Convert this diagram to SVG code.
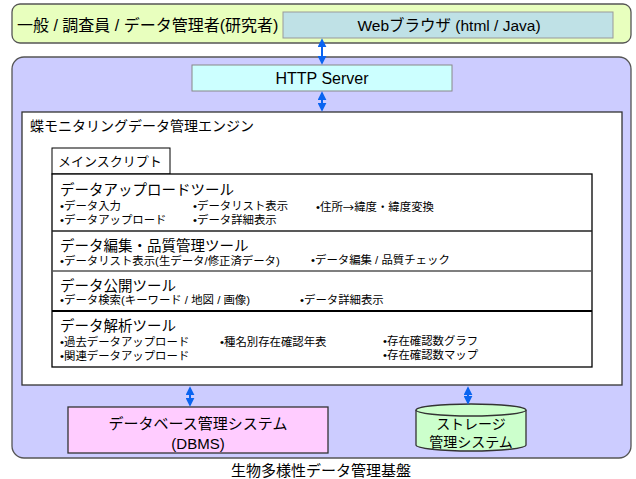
<svg xmlns="http://www.w3.org/2000/svg" width="636" height="479" viewBox="0 0 636 479">
<defs>
<marker id="ah" viewBox="0 0 10 10" refX="8" refY="5" markerWidth="4.5" markerHeight="4.5" orient="auto-start-reverse" markerUnits="strokeWidth">
<path d="M0,0 L10,5 L0,10 z" fill="#0a64f0"/>
</marker>
</defs>
<style>
text{font-family:"Liberation Sans","Noto Sans CJK JP",sans-serif;fill:#000;dominant-baseline:central}
.t16{font-size:16px}
.t15{font-size:15px}
.t14{font-size:14px}
.ttl{font-size:14.5px}
.it{font-size:11.4px}
.mid{text-anchor:middle}
.cjk{font-family:"Noto Sans CJK JP",sans-serif}
.arr{stroke:#0a64f0;stroke-width:2;fill:none;marker-start:url(#ah);marker-end:url(#ah)}
</style>
<g id="users">
<rect x="12" y="4" width="619" height="39" rx="8" fill="#e8ffbe" stroke="#555" stroke-width="1.3"/>
<text class="t16" x="17" y="25">一般 / 調査員 / データ管理者(研究者)</text>
</g>
<g id="browser">
<rect x="283" y="12" width="330" height="26" fill="#bfe1e6" stroke="#999" stroke-width="1"/>
<text class="mid" style="font-size:15.5px" x="449" y="25">Webブラウザ (html / Java)</text>
</g>
<g id="platform">
<rect x="12" y="57" width="619" height="401" rx="12" fill="#ccccff" stroke="#555" stroke-width="1.3"/>
<text class="t15 mid" x="321" y="470">生物多様性データ管理基盤</text>
</g>
<g id="http">
<rect x="192" y="65" width="260" height="26" fill="#ccffff" stroke="#888" stroke-width="1"/>
<text class="t16 mid" x="322" y="78">HTTP Server</text>
</g>
<g id="engine">
<rect x="22" y="112" width="600" height="273" fill="#fff" stroke="#333" stroke-width="1.3"/>
<text class="t14" x="30" y="126">蝶モニタリングデータ管理エンジン</text>
</g>
<g id="mainscript">
<rect x="52" y="148" width="118" height="26" fill="#fff" stroke="#000" stroke-width="1"/>
<text style="font-size:13px" x="58" y="161">メインスクリプト</text>
</g>
<g id="tools">
<rect x="52" y="174" width="540" height="193" fill="#fff" stroke="#000" stroke-width="1.3"/>
<line x1="52" y1="231" x2="592" y2="231" stroke="#222" stroke-width="1.5"/>
<line x1="52" y1="271" x2="592" y2="271" stroke="#555" stroke-width="1.5"/>
<line x1="52" y1="311" x2="592" y2="311" stroke="#000" stroke-width="2"/>
</g>
<g id="upload-tool">
<text class="ttl" x="60" y="190">データアップロードツール</text>
<text class="it" x="60" y="206">•データ入力</text>
<text class="it" x="60" y="220">•データアップロード</text>
<text class="it" x="193" y="206">•データリスト表示</text>
<text class="it" x="193" y="220">•データ詳細表示</text>
<text class="it" x="316" y="207">•住所<tspan class="cjk">→</tspan>緯度・緯度変換</text>
</g>
<g id="edit-tool">
<text class="ttl" x="60" y="246">データ編集・品質管理ツール</text>
<text class="it" x="60" y="261">•データリスト表示(生データ/修正済データ)</text>
<text class="it" x="311" y="260">•データ編集 / 品質チェック</text>
</g>
<g id="publish-tool">
<text class="ttl" x="60" y="286">データ公開ツール</text>
<text class="it" x="60" y="300">•データ検索(キーワード / 地図 / 画像)</text>
<text class="it" x="300" y="300">•データ詳細表示</text>
</g>
<g id="analysis-tool">
<text class="ttl" x="60" y="326">データ解析ツール</text>
<text class="it" x="60" y="342">•過去データアップロード</text>
<text class="it" x="60" y="356">•関連データアップロード</text>
<text class="it" x="220" y="342">•種名別存在確認年表</text>
<text class="it" x="383" y="341">•存在確認数グラフ</text>
<text class="it" x="383" y="355">•存在確認数マップ</text>
</g>
<g id="dbms">
<rect x="68" y="407" width="260" height="46" fill="#ffccff" stroke="#333" stroke-width="1.3"/>
<text class="t15 mid" x="198" y="423">データベース管理システム</text>
<text class="t15 mid" x="198" y="443">(DBMS)</text>
</g>
<g id="storage">
<path d="M416,410 L416,445 A55,6 0 0 0 526,445 L526,410" fill="#ccffcc" stroke="#333" stroke-width="1.3"/>
<ellipse cx="471" cy="410" rx="55" ry="6" fill="#ccffcc" stroke="#333" stroke-width="1.3"/>
<text class="t14 mid" x="471" y="424">ストレージ</text>
<text class="t14 mid" x="471" y="442">管理システム</text>
</g>
<g id="connectors">
<line class="arr" x1="322" y1="40" x2="322" y2="63"/>
<line class="arr" x1="322" y1="93" x2="322" y2="110"/>
<line class="arr" x1="190" y1="388" x2="190" y2="405"/>
<line class="arr" x1="468" y1="388" x2="468" y2="403"/>
</g>
</svg>
